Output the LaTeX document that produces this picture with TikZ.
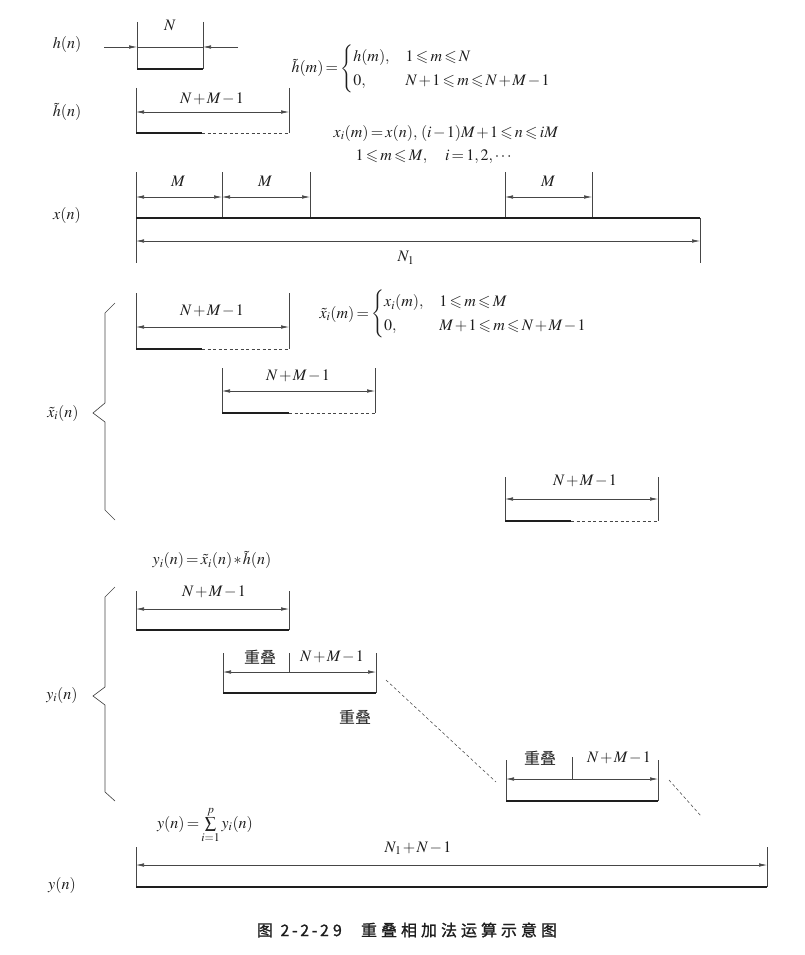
\documentclass[tikz,border=0pt]{standalone}
\usepackage{amsmath,amssymb}
\usepackage{mathptmx}
\usepackage[no-math]{fontspec}
\setmainfont{Liberation Serif}
\newfontfamily\cjk{Noto Sans CJK SC}
\newfontfamily\capfont[LetterSpace=25,FakeBold=1.2]{Noto Sans CJK SC}
\usepackage{xcolor}
\definecolor{ink}{RGB}{30,30,30}
\definecolor{lineg}{RGB}{70,70,70}
\usepackage{tikz}
\usetikzlibrary{arrows.meta}
\newcommand{\tightmath}{\medmuskip=1.5mu\relax\thickmuskip=2.5mu\relax}

\begin{document}
\begin{tikzpicture}[x=1pt,y=-1pt,font=\fontsize{16}{19}\selectfont\tightmath,text=ink,
  dim/.style={lineg,line width=0.55pt,{Latex[length=8pt,width=3.5pt]}-{Latex[length=8pt,width=3.5pt]}},
  half/.style={lineg,line width=0.55pt,-{Latex[length=8pt,width=3.5pt]}},
  tick/.style={lineg,line width=0.65pt},
  seq/.style={ink,line width=1.5pt},
  pad/.style={lineg,line width=0.65pt,dash pattern=on 3pt off 2.5pt},
  slant/.style={lineg,line width=0.55pt,dash pattern=on 3pt off 2.5pt},
  brace/.style={lineg,line width=0.65pt},
  zh/.style={font=\cjk\fontsize{16}{19}\selectfont}]
  \useasboundingbox (0,0) rectangle (804,955);

  % h(n)
  \node (hn) at (67,45) {$h(n)$};
  \draw[tick] (137,22) -- (137,69) (203,22) -- (203,69);
  \draw[seq] (137,69) -- (203,69);
  \draw[half] (104,47) -- (137,47);
  \draw[half] (238,47) -- (203,47);
  \draw[tick] (137,47) -- (203,47);
  \node (lenN) at (170,25) {$N$};

  % h~(n)
  \node (htn) at (67,112) {$\tilde{h}(n)$};
  \draw[tick] (136,88) -- (136,133) (289,88) -- (289,133);
  \draw[dim] (136,112) -- (289,112);
  \node (lenh) at (212,99) {$N+M-1$};
  \draw[seq] (136,133) -- (202,133);
  \draw[pad] (202,133) -- (289,133);

  \node[anchor=west] (htm) at (288,69) {$\tilde{h}(m)=\begin{cases}h(m), & 1\leqslant m\leqslant N\\[1pt]
    0, & N+1\leqslant m\leqslant N+M-1\end{cases}$};
  \node (xim) at (446,133) {$x_i(m)=x(n),\,(i-1)M+1\leqslant n\leqslant iM$};
  \node[anchor=west] (xirange) at (352,157) {$1\leqslant m\leqslant M,\quad i=1,2,\cdots$};

  % x(n)
  \node (xn) at (67,215) {$x(n)$};
  \foreach \t in {136,222,310,505,592}
    \draw[tick] (\t,172) -- (\t,218);
  \draw[tick] (136,218) -- (136,263) (700,218) -- (700,263);
  \draw[dim] (136,197) -- (222,197);
  \draw[dim] (222,197) -- (310,197);
  \draw[dim] (505,197) -- (592,197);
  \node (m1) at (178,181) {$M$};
  \node (m2) at (265,181) {$M$};
  \node (m3) at (548,181) {$M$};
  \draw[seq] (136,218) -- (700,218);
  \draw[dim] (136,241) -- (700,241);
  \node (lenN1) at (406,258) {$N_1$};

  % x~_i(n)
  \node (xtn) at (63,413) {$\tilde{x}_i(n)$};
  \draw[brace] (115,303) -- (105,313) -- (105,403) -- (93,413) -- (105,422) -- (105,510) -- (115,520);
  \draw[tick] (136,293) -- (136,349) (289,293) -- (289,349);
  \draw[dim] (136,327) -- (289,327);
  \node (lenx1) at (212,311) {$N+M-1$};
  \draw[seq] (136,349) -- (202,349);
  \draw[pad] (202,349) -- (289,349);
  \node[anchor=west] (xtm) at (316,314) {$\tilde{x}_i(m)=\begin{cases}x_i(m), & 1\leqslant m\leqslant M\\[1pt]
    0, & M+1\leqslant m\leqslant N+M-1\end{cases}$};

  \draw[tick] (222,368) -- (222,413) (375,368) -- (375,413);
  \draw[dim] (222,391) -- (375,391);
  \node (lenx2) at (298,376) {$N+M-1$};
  \draw[seq] (222,413) -- (289,413);
  \draw[pad] (289,413) -- (375,413);

  \draw[tick] (505,477) -- (505,521) (658,477) -- (658,521);
  \draw[dim] (505,499) -- (658,499);
  \node (lenx3) at (585,481) {$N+M-1$};
  \draw[seq] (505,521) -- (571,521);
  \draw[pad] (571,521) -- (658,521);

  % y_i(n)
  \node (yidef) at (212,560) {$y_i(n)=\tilde{x}_i(n)*\tilde{h}(n)$};
  \node (yin) at (62,695) {$y_i(n)$};
  \draw[brace] (115,587) -- (105,597) -- (105,687) -- (93,696) -- (105,705) -- (105,792) -- (115,801);

  \draw[tick] (136,591) -- (136,630) (289,591) -- (289,630);
  \draw[dim] (136,609) -- (289,609);
  \node (leny1) at (214,592) {$N+M-1$};
  \draw[seq] (136,630) -- (289,630);

  \draw[tick] (223,653) -- (223,693) (376,653) -- (376,693) (289,653) -- (289,672);
  \draw[dim] (223,672) -- (376,672);
  \node[zh] (ov1) at (260,657) {重叠};
  \node (leny2) at (332,657) {$N+M-1$};
  \draw[seq] (223,693) -- (376,693);
  \node[zh] (ov2) at (355,717) {重叠};
  \draw[slant] (386,680) -- (496,782);

  \draw[tick] (506,760) -- (506,801) (658,760) -- (658,801) (572,757) -- (572,779);
  \draw[dim] (506,779) -- (658,779);
  \node[zh] (ov3) at (540,758) {重叠};
  \node (leny3) at (619,758) {$N+M-1$};
  \draw[seq] (506,801) -- (658,801);
  \draw[slant] (669,780) -- (701,816);

  % y(n)
  \node (ysum) at (205,825) {$y(n)=\sum\limits_{i=1}^{p}y_i(n)$};
  \node (yn) at (62,885) {$y(n)$};
  \draw[tick] (136,847) -- (136,887) (767,847) -- (767,887);
  \draw[dim] (136,865) -- (767,865);
  \node (leny) at (418,848) {$N_1+N-1$};
  \draw[seq] (136,887) -- (767,887);

  \node (cap) at (407,930) {\capfont\fontsize{16}{19}\selectfont 图 2\,-\,2\,-\,29\hspace{1.2em}重叠相加法运算示意图};
\end{tikzpicture}
\end{document}
